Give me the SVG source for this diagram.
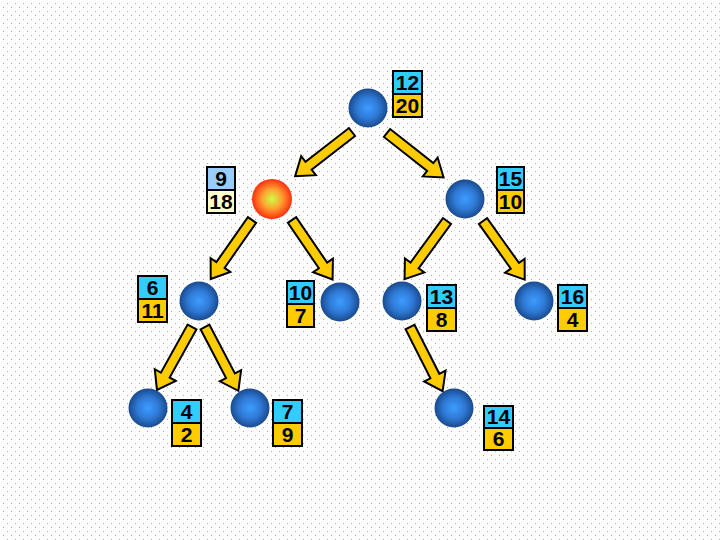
<svg xmlns="http://www.w3.org/2000/svg" width="720" height="540" viewBox="0 0 720 540">
<defs>
<pattern id="dots" width="8" height="8" patternUnits="userSpaceOnUse">
<rect x="7" y="3" width="1" height="1" fill="#a8a8a8"/>
<rect x="3" y="7" width="1" height="1" fill="#a8a8a8"/>
</pattern>
<radialGradient id="blue" cx="50%" cy="50%" r="50%">
<stop offset="0" stop-color="#3d9cff"/>
<stop offset="0.55" stop-color="#2f7ad6"/>
<stop offset="1" stop-color="#1a4a8e"/>
</radialGradient>
<radialGradient id="red" cx="50%" cy="50%" r="50%">
<stop offset="0" stop-color="#ccff44"/>
<stop offset="0.5" stop-color="#ffa030"/>
<stop offset="1" stop-color="#ff3010"/>
</radialGradient>
<polygon id="arr" points="0,-5 55,-5 55,-12 72,0 55,12 55,5 0,5"/>
</defs>
<style>
.arrow{fill:#ffcc00;stroke:#000;stroke-width:2;stroke-linejoin:miter}
.nb{fill:url(#blue)}
.nr{fill:url(#red)}
.t{fill:#33ccff;stroke:#000;stroke-width:2}
.b{fill:#ffcc00;stroke:#000;stroke-width:2}
.t2{fill:#99ccff;stroke:#000;stroke-width:2}
.b2{fill:#ffffcc;stroke:#000;stroke-width:2}
text{font-family:"Liberation Sans",Arial,sans-serif;font-weight:bold;font-size:21px;fill:#000;text-anchor:middle}
</style>
<rect width="720" height="540" fill="#ffffff"/>
<rect width="720" height="540" fill="url(#dots)"/>
<g id="connectors">
<use href="#arr" class="arrow" transform="translate(352,132) rotate(142.2)"/>
<use href="#arr" class="arrow" transform="translate(387,133) rotate(38.2)"/>
<use href="#arr" class="arrow" transform="translate(252,220) rotate(125)"/>
<use href="#arr" class="arrow" transform="translate(292,220) rotate(55.7)"/>
<use href="#arr" class="arrow" transform="translate(447,221) rotate(126.1)"/>
<use href="#arr" class="arrow" transform="translate(483,221) rotate(54.6)"/>
<use href="#arr" class="arrow" transform="translate(192,327) rotate(119.1)"/>
<use href="#arr" class="arrow" transform="translate(205,327) rotate(62.4)"/>
<use href="#arr" class="arrow" transform="translate(410,327) rotate(63.1)"/>
</g>
<g id="n12">
<circle class="nb" cx="368" cy="108" r="19.5"/>
<rect class="t" x="393" y="71" width="29" height="23"/><rect class="b" x="393" y="94" width="29" height="23"/>
<text x="407.5" y="90">12</text><text x="407.5" y="113">20</text>
</g>
<g id="n9">
<circle class="nr" cx="272" cy="199" r="20"/>
<rect class="t2" x="207" y="167" width="28" height="23"/><rect class="b2" x="207" y="190" width="28" height="23"/>
<text x="221" y="186">9</text><text x="221" y="209">18</text>
</g>
<g id="n15">
<circle class="nb" cx="465" cy="199" r="19.5"/>
<rect class="t" x="497" y="167" width="27" height="23"/><rect class="b" x="497" y="190" width="27" height="23"/>
<text x="510.5" y="186">15</text><text x="510.5" y="209">10</text>
</g>
<g id="n6">
<circle class="nb" cx="199" cy="301" r="19.5"/>
<rect class="t" x="138" y="276" width="29" height="23"/><rect class="b" x="138" y="299" width="29" height="23"/>
<text x="152.5" y="295">6</text><text x="152.5" y="318">11</text>
</g>
<g id="n10">
<circle class="nb" cx="340" cy="302" r="19.5"/>
<rect class="t" x="287" y="281" width="27" height="23"/><rect class="b" x="287" y="304" width="27" height="23"/>
<text x="300.5" y="300">10</text><text x="300.5" y="323">7</text>
</g>
<g id="n13">
<circle class="nb" cx="402" cy="301" r="19.5"/>
<rect class="t" x="427" y="285" width="29" height="23"/><rect class="b" x="427" y="308" width="29" height="23"/>
<text x="441.5" y="304">13</text><text x="441.5" y="327">8</text>
</g>
<g id="n16">
<circle class="nb" cx="534" cy="301" r="19.5"/>
<rect class="t" x="558" y="285" width="29" height="23"/><rect class="b" x="558" y="308" width="29" height="23"/>
<text x="572.5" y="304">16</text><text x="572.5" y="327">4</text>
</g>
<g id="n4">
<circle class="nb" cx="148" cy="408" r="19.5"/>
<rect class="t" x="172" y="400" width="29" height="23"/><rect class="b" x="172" y="423" width="29" height="23"/>
<text x="186.5" y="419">4</text><text x="186.5" y="442">2</text>
</g>
<g id="n7">
<circle class="nb" cx="250" cy="408" r="19.5"/>
<rect class="t" x="273" y="400" width="29" height="23"/><rect class="b" x="273" y="423" width="29" height="23"/>
<text x="287.5" y="419">7</text><text x="287.5" y="442">9</text>
</g>
<g id="n14">
<circle class="nb" cx="454" cy="408" r="19.5"/>
<rect class="t" x="484" y="406" width="29" height="22"/><rect class="b" x="484" y="428" width="29" height="22"/>
<text x="498.5" y="424">14</text><text x="498.5" y="446">6</text>
</g>
</svg>
